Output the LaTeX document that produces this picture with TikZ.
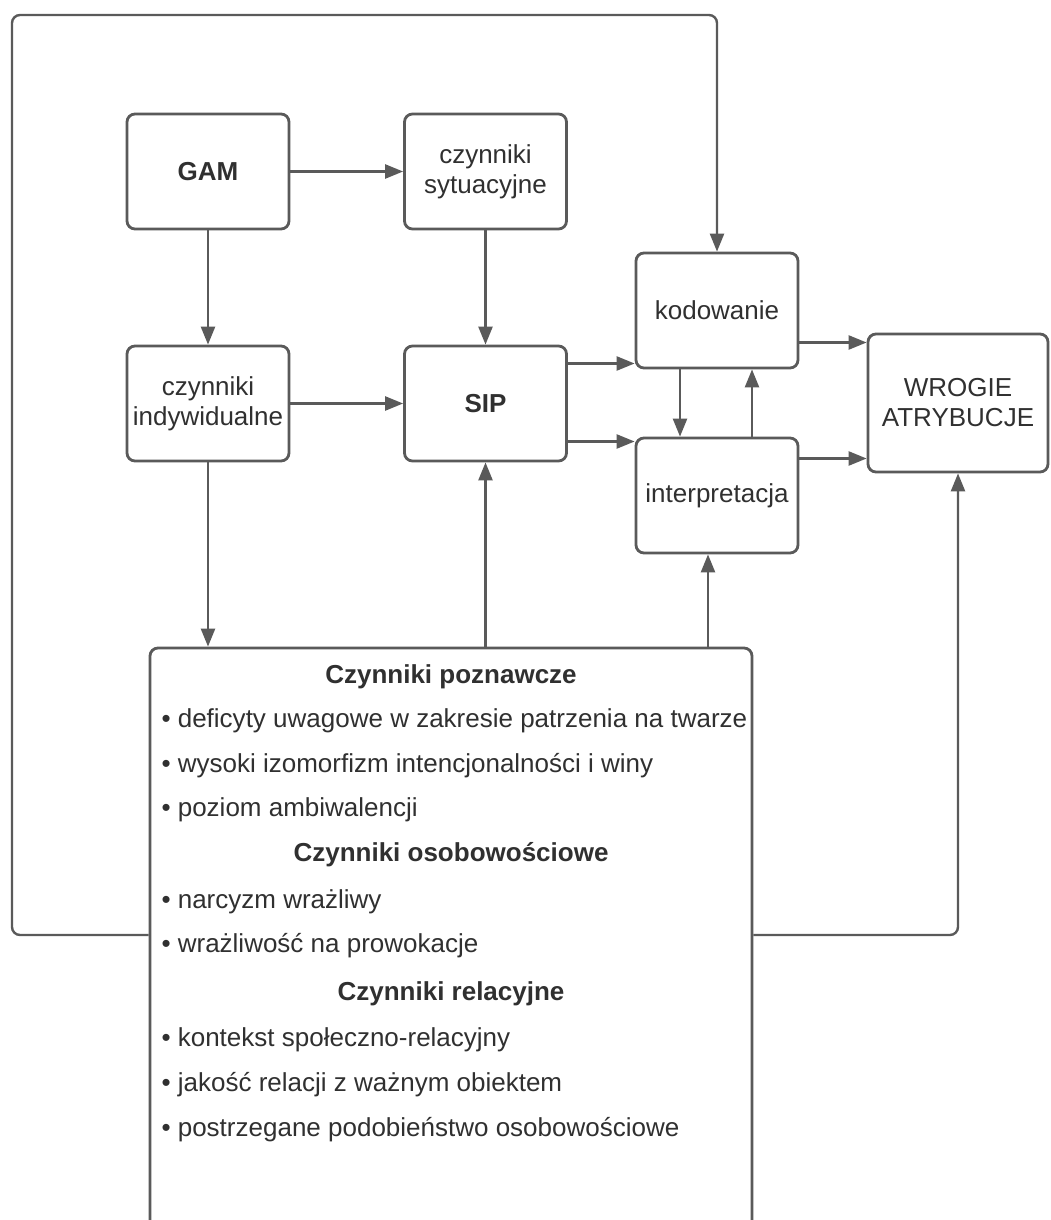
\documentclass[tikz,border=0pt]{standalone}
\usepackage{fontspec}
\setmainfont{Liberation Sans}
\usetikzlibrary{arrows.meta, positioning, calc}
\definecolor{linegray}{HTML}{5A5A5A}
\definecolor{textgray}{HTML}{303030}

\begin{document}
\begin{tikzpicture}[x=1pt, y=-1pt, >={Triangle[length=18pt, width=14pt]},
    every node/.style={font=\fontsize{26}{30}\selectfont, text=textgray},
    box/.style={draw=linegray, line width=2.8pt, rounded corners=8pt, align=center,
        minimum width=162pt, minimum height=115pt, inner sep=2pt},
    link/.style={draw=linegray, line width=2.4pt, rounded corners=8pt, ->},
    head/.style={font=\bfseries\fontsize{26}{30}\selectfont},
    item/.style={anchor=west}]
    \useasboundingbox (0,0) rectangle (1050,1220);
    \clip (0,0) rectangle (1050,1220);
    \fill[white] (0,0) rectangle (1050,1220);

    \node[box] (gam) at (208, 171.5) {\textbf{GAM}};
    \node[box] (sit) at (485.5, 171.5) {czynniki\\sytuacyjne};
    \node[box] (ind) at (208, 403.5) {czynniki\\indywidualne};
    \node[box] (sip) at (485.5, 403.5) {\textbf{SIP}};
    \node[box] (kod) at (717, 310.5) {kodowanie};
    \node[box] (int) at (717, 495.5) {interpretacja};
    \node[box, minimum width=180pt, minimum height=138pt] (wro) at (958, 403) {WROGIE\\ATRYBUCJE};
    \node[box, minimum width=602pt, minimum height=612pt] (czy) at (451, 954) {};
    \coordinate (loop) at (12, 15);

    % czynniki w dolnym polu
    \node[head] (h1) at (451, 677) {Czynniki poznawcze};
    \node[item] (p1) at (158, 721) {• deficyty uwagowe w zakresie patrzenia na twarze};
    \node[item] (p2) at (158, 766) {• wysoki izomorfizm intencjonalności i winy};
    \node[item] (p3) at (158, 810) {• poziom ambiwalencji};
    \node[head] (h2) at (451, 855) {Czynniki osobowościowe};
    \node[item] (o1) at (158, 902) {• narcyzm wrażliwy};
    \node[item] (o2) at (158, 946) {• wrażliwość na prowokacje};
    \node[head] (h3) at (451, 994) {Czynniki relacyjne};
    \node[item] (r1) at (158, 1040) {• kontekst społeczno-relacyjny};
    \node[item] (r2) at (158, 1085) {• jakość relacji z ważnym obiektem};
    \node[item] (r3) at (158, 1130) {• postrzegane podobieństwo osobowościowe};

    \draw[link] (gam) -- (sit);
    \draw[link] (gam) -- (ind);
    \draw[link] (sit) -- (sip);
    \draw[link] (ind) -- (sip);
    \draw[link] (ind.south) -- (ind.south |- czy.north);
    \draw[link] (czy.north -| sip.south) -- (sip.south);
    \draw[link] ([yshift=40pt]sip.east) -- ([yshift=40pt]sip.east -| kod.west);
    \draw[link] ([yshift=-38pt]sip.east) -- ([yshift=-38pt]sip.east -| int.west);
    \draw[link] ([xshift=-37pt]kod.south) -- ([xshift=-37pt]kod.south |- int.north);
    \draw[link] ([xshift=35pt]int.north) -- ([xshift=35pt]int.north |- kod.south);
    \draw[link] ([xshift=-9pt]int.south |- czy.north) -- ([xshift=-9pt]int.south);
    \draw[link] ([yshift=-32pt]kod.east) -- ([yshift=-32pt]kod.east -| wro.west);
    \draw[link] ([yshift=37pt]int.east) -- ([yshift=37pt]int.east -| wro.west);
    \draw[link] ([yshift=19pt]czy.east) -| (wro.south);
    \draw[link] ([yshift=19pt]czy.west) -| (loop) -| (kod.north);
\end{tikzpicture}
\end{document}
